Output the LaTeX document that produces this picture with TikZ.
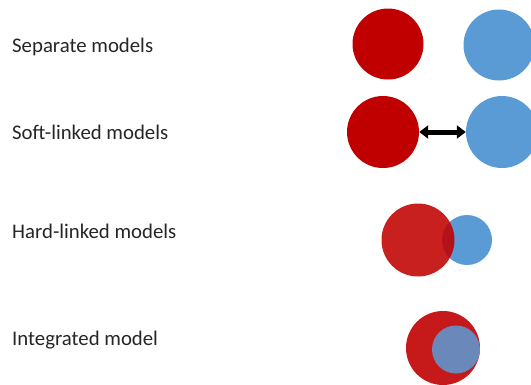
\documentclass[tikz,border=0pt]{standalone}
\usepackage{fontspec}
\setmainfont{Carlito}
\usetikzlibrary{arrows.meta}
\definecolor{modelred}{HTML}{C00000}
\definecolor{modelblue}{HTML}{5B9BD5}
\begin{document}
\begin{tikzpicture}[x=1pt,y=-1pt,
  label/.style={anchor=base west,inner sep=0pt,font=\fontsize{20.8}{24}\selectfont,text=black!85},
  redball/.style={circle,fill=modelred,inner sep=0pt,minimum size=#1},
  blueball/.style={circle,fill=modelblue,inner sep=0pt,minimum size=#1},
  link/.style={line width=5pt,{Triangle[length=9pt,width=13pt]}-{Triangle[length=9pt,width=13pt]}}]
\useasboundingbox (0,0) rectangle (531,384);
% row labels
\node[label] (t1) at (12,52) {Separate models};
\node[label] (t2) at (12,139) {Soft-linked models};
\node[label] (t3) at (12,238) {Hard-linked models};
\node[label] (t4) at (12,345) {Integrated model};
% separate models
\node[redball=71pt] (s1) at (388,44) {};
\node[blueball=71pt] (s2) at (499,45) {};
% soft-linked models
\node[redball=72pt] (k1) at (383,132) {};
\node[blueball=72pt] (k2) at (502,132) {};
\draw[link] (k1.east) -- (k2.west);
% hard-linked models
\node[blueball=50pt] (h2) at (467,240) {};
\node[redball=73pt,fill opacity=0.88] (h1) at (418,240) {};
% integrated model
\node[redball=74pt,fill opacity=0.9] (i1) at (443,348) {};
\node[blueball=48pt,fill opacity=0.85] (i2) at (456,349.5) {};
\end{tikzpicture}
\end{document}
